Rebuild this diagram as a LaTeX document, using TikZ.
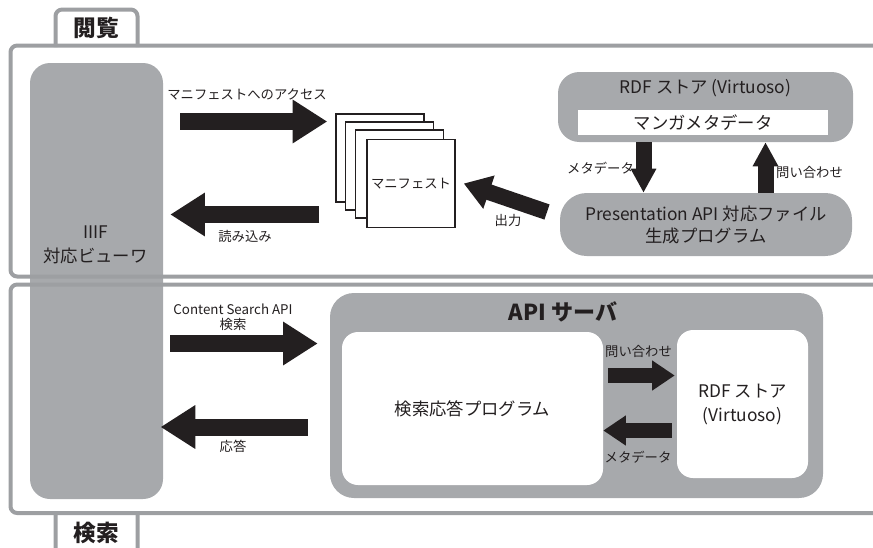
\documentclass[tikz,border=0pt]{standalone}
\usepackage{fontspec}
\newfontfamily\jpfont{Noto Sans CJK JP}
\usetikzlibrary{arrows.meta,positioning}
\definecolor{Frame}{HTML}{9D9FA2}
\definecolor{Slate}{HTML}{A7A9AC}
\definecolor{Ink}{HTML}{231F20}

\begin{document}
\begin{tikzpicture}[x=0.75pt,y=-0.75pt,
  every node/.style={font=\jpfont\fontsize{10}{12}\selectfont,text=Ink,inner sep=0pt},
  panel/.style={draw=Frame,line width=3pt,rounded corners=5pt},
  tab/.style={draw=Frame,line width=3pt,rounded corners=5pt,fill=white},
  tabtext/.style={font=\jpfont\bfseries\fontsize{17}{20}\selectfont},
  graybox/.style={fill=Slate,rounded corners=15pt},
  whitebox/.style={fill=white,rounded corners=12pt},
  bigtext/.style={font=\jpfont\fontsize{13}{18}\selectfont,align=center},
  sheet/.style={draw=Ink,line width=1.1pt,fill=white,minimum size=66pt},
  fat/.style={draw=Ink,line width=12.75pt,-{Triangle[length=26pt,width=31pt]}},
  slim/.style={draw=Ink,line width=11.25pt,-{Triangle[length=17pt,width=21.5pt]}},
  vert/.style={draw=Ink,line width=12pt,-{Triangle[length=18pt,width=18pt]}},
  outarrow/.style={draw=Ink,line width=12pt,-{Triangle[length=20pt,width=25pt]}}
]
\useasboundingbox (0,0) rectangle (873,547);
\clip (0,0) rectangle (873,547);

% tabs
\draw[tab] (55.5,47) -- (55.5,9.5) -- (137.5,9.5) -- (137.5,47);
\node[tabtext] (viewtab) at (96.5,28) {閲覧};
\draw[tab] (55.5,511) -- (55.5,565) -- (137.5,565) -- (137.5,511);
\node[tabtext] (searchtab) at (96.5,533) {検索};

% viewer
\node[graybox,minimum width=99.75pt,minimum height=327pt] (viewer) at (96.5,281) {};
\node[bigtext] (viewerlabel) at (95.5,245) {IIIF\\対応ビューワ};

% panels
\draw[panel] (10.5,45.5) rectangle (900,276.5);
\draw[panel] (10.5,284.5) rectangle (900,513);

% browse
\node[graybox,rounded corners=16pt,minimum width=221.25pt,minimum height=52.5pt] (rdf) at (705.5,107) {};
\node[bigtext] (rdftitle) at (705.5,88) {RDF ストア (Virtuoso)};
\node[fill=white,minimum width=187.5pt,minimum height=18.75pt,bigtext] (manga) at (703,122.5) {マンガメタデータ};
\node[graybox,rounded corners=20pt,minimum width=219pt,minimum height=47.25pt,bigtext,
  font=\jpfont\fontsize{13}{16.5}\selectfont] (pres) at (706,224.5) {Presentation API 対応ファイル\\生成プログラム};

\node[sheet] (man1) at (380,158) {};
\node[sheet] (man2) at (389.5,166) {};
\node[sheet] (man3) at (399.5,174) {};
\node[sheet] (man4) at (411,183.5) {マニフェスト};

\coordinate (accrow) at (0,121.5);
\coordinate (readrow) at (0,214.5);
\coordinate (downcol) at (643.5,0);
\coordinate (upcol) at (765.5,0);
\coordinate (outtail) at (547,212);

\draw[fat,shorten <=12.75pt,shorten >=6pt] (viewer.east |- accrow) -- (man1.west |- accrow);
\draw[fat,shorten <=12pt,shorten >=5.25pt] (man1.west |- readrow) -- (viewer.east |- readrow);
\draw[outarrow] (outtail) -- ([xshift=6pt]man4.east);
\draw[vert] (rdf.south -| downcol) -- (pres.north -| downcol);
\draw[vert] (pres.north -| upcol) -- (rdf.south -| upcol);

\node (acclabel) at (247,94) {マニフェストへのアクセス};
\node (readlabel) at (245,236) {読み込み};
\node (outlabel) at (508,220) {出力};
\node (metalabel) at (600.5,168) {メタデータ};
\node (querylabel) at (809.5,172.5) {問い合わせ};

% search
\node[graybox,rounded corners=18pt,minimum width=369.75pt,minimum height=153.75pt] (api) at (576.5,395.5) {};
\node[font=\jpfont\bfseries\fontsize{16.5}{20}\selectfont] (apititle) at (563,312) {API サーバ};
\node[whitebox,bigtext,minimum width=195.75pt,minimum height=114.75pt] (prog) at (472.5,408.5) {検索応答プログラム};
\node[whitebox,bigtext,minimum width=98.25pt,minimum height=111pt] (rdf2) at (742.5,404) {RDF ストア\\(Virtuoso)};

\coordinate (srchrow) at (0,343.5);
\coordinate (ansrow) at (0,427);
\coordinate (qrow) at (0,375.5);
\coordinate (mrow) at (0,430.5);

\draw[fat,shorten <=5.25pt,shorten >=9pt] (viewer.east |- srchrow) -- (api.west |- srchrow);
\draw[fat,shorten <=16.5pt,shorten >=-2pt] (api.west |- ansrow) -- (viewer.east |- ansrow);
\draw[slim,shorten <=3.75pt,shorten >=1.5pt] (prog.east |- qrow) -- (rdf2.west |- qrow);
\draw[slim,shorten <=3.75pt] (rdf2.west |- mrow) -- (prog.east |- mrow);

\node[align=center,font=\jpfont\fontsize{10}{11.25}\selectfont] (srchlabel) at (233,317) {Content Search API\\検索};
\node (anslabel) at (233,446) {応答};
\node (qlabel) at (638.5,351.5) {問い合わせ};
\node (mlabel) at (638,457.5) {メタデータ};
\end{tikzpicture}
\end{document}
